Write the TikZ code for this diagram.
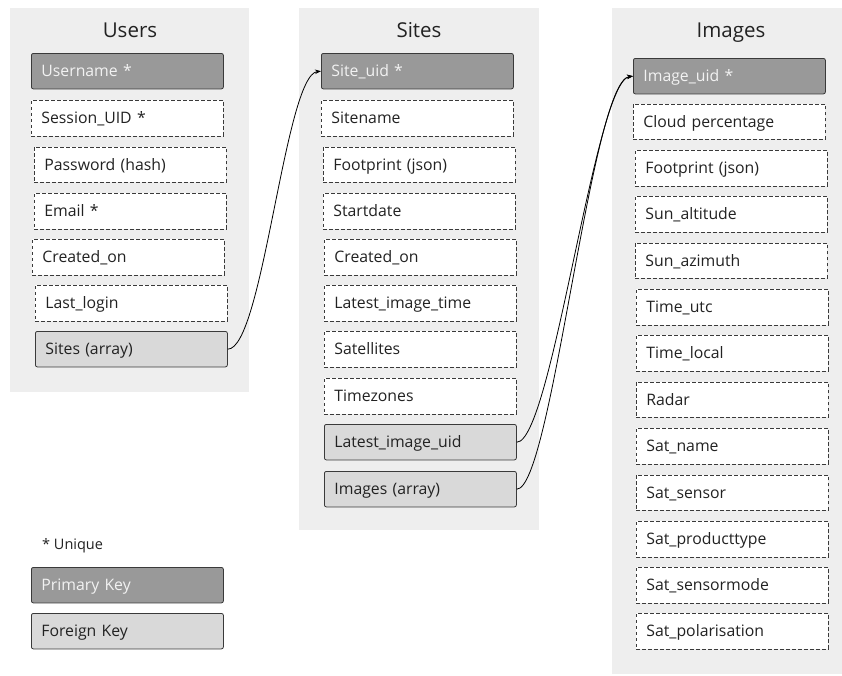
\documentclass[tikz,border=0pt]{standalone}
\usepackage{fontspec}
\setmainfont{Open Sans}
\usetikzlibrary{arrows.meta}
\definecolor{panelbg}{HTML}{EEEEEE}
\definecolor{pkfill}{HTML}{999999}
\definecolor{fkfill}{HTML}{D9D9D9}
\definecolor{edge}{HTML}{3A3A3A}
\definecolor{txt}{HTML}{222222}
\definecolor{pktxt}{HTML}{F2F2F2}
\tikzset{
  panel/.style={fill=panelbg, draw=none},
  title/.style={font=\fontsize{20.5}{24}\selectfont, text=txt, anchor=base, inner sep=0pt},
  fieldbase/.style={anchor=north west, minimum width=192pt, minimum height=35.5pt,
    text width=172pt, align=left, inner xsep=10pt, inner ysep=0pt,
    text height=11pt, text depth=0pt,
    font=\fontsize{15.8}{18}\selectfont},
  plain/.style={fieldbase, fill=white, draw=edge, dashed, dash pattern=on 3.5pt off 2.5pt, line width=0.8pt, text=txt},
  pkey/.style={fieldbase, fill=pkfill, draw=edge, line width=0.8pt, rounded corners=2pt, text=pktxt},
  fkey/.style={fieldbase, fill=fkfill, draw=edge, line width=0.8pt, rounded corners=2pt, text=txt},
  link/.style={draw=black, line width=0.8pt, -{Stealth[length=6pt,width=4.5pt]}},
}
% \fld{style}{name}{x}{y}{text}
\newcommand{\fld}[5]{\node[#1] (#2) at (#3,#4) {#5};}
\begin{document}
\begin{tikzpicture}[x=1pt,y=-1pt]
  \clip (0,0) rectangle (842,675);
  \fill[white] (0,0) rectangle (842,675);

  % table panels
  \fill[panel] (10,8) rectangle (249,392);
  \fill[panel] (299,8) rectangle (539,530);
  \fill[panel] (612,8) rectangle (852,674);

  \node[title] (tUsers) at (130,37.5) {Users};
  \node[title] (tSites) at (419,37.5) {Sites};
  \node[title] (tImages) at (731,37.5) {Images};

  % Users
  \fld{pkey}{uname}{31}{53}{Username *}
  \fld{plain}{usess}{31}{100}{Session\_UID *}
  \fld{plain}{upass}{34}{146.5}{Password (hash)}
  \fld{plain}{uemail}{34}{193}{Email *}
  \fld{plain}{ucreated}{32}{239}{Created\_on}
  \fld{plain}{ulast}{35}{285}{Last\_login}
  \fld{fkey}{usites}{35}{331}{Sites (array)}

  % Sites
  \fld{pkey}{suid}{321}{53}{Site\_uid *}
  \fld{plain}{sname}{321}{100}{Sitename}
  \fld{plain}{sfoot}{323}{146.5}{Footprint (json)}
  \fld{plain}{sstart}{323}{193}{Startdate}
  \fld{plain}{screated}{324}{239}{Created\_on}
  \fld{plain}{slatesttime}{324}{285}{Latest\_image\_time}
  \fld{plain}{ssat}{324}{331}{Satellites}
  \fld{plain}{stz}{324}{378}{Timezones}
  \fld{fkey}{slatestuid}{324}{424}{Latest\_image\_uid}
  \fld{fkey}{simages}{324}{471}{Images (array)}

  % Images
  \fld{pkey}{iuid}{633}{58}{Image\_uid *}
  \fld{plain}{icloud}{633}{103.5}{Cloud percentage}
  \fld{plain}{ifoot}{635}{150}{Footprint (json)}
  \fld{plain}{ialt}{635}{196}{Sun\_altitude}
  \fld{plain}{iazi}{635}{242.5}{Sun\_azimuth}
  \fld{plain}{iutc}{636}{289}{Time\_utc}
  \fld{plain}{ilocal}{636}{335}{Time\_local}
  \fld{plain}{iradar}{636}{381.5}{Radar}
  \fld{plain}{isatname}{636}{428}{Sat\_name}
  \fld{plain}{isensor}{636}{474.5}{Sat\_sensor}
  \fld{plain}{iprod}{636}{521}{Sat\_producttype}
  \fld{plain}{imode}{636}{567}{Sat\_sensormode}
  \fld{plain}{ipol}{636}{613}{Sat\_polarisation}

  % legend
  \node[anchor=base west, font=\fontsize{14.5}{17}\selectfont, text=txt, inner sep=0pt] (unique) at (42,549) {* Unique};
  \fld{pkey}{lpk}{31}{567}{Primary Key}
  \fld{fkey}{lfk}{31}{613}{Foreign Key}

  % references
  \draw[link] (usites.east) .. controls +(35,0) and +(-36,4) .. (suid.west);
  \draw[link] (slatestuid.east) .. controls +(35,0) and +(-38,5) .. (iuid.west);
  \draw[link] (simages.east) .. controls +(35,0) and +(-42,5) .. (iuid.west);
\end{tikzpicture}
\end{document}
